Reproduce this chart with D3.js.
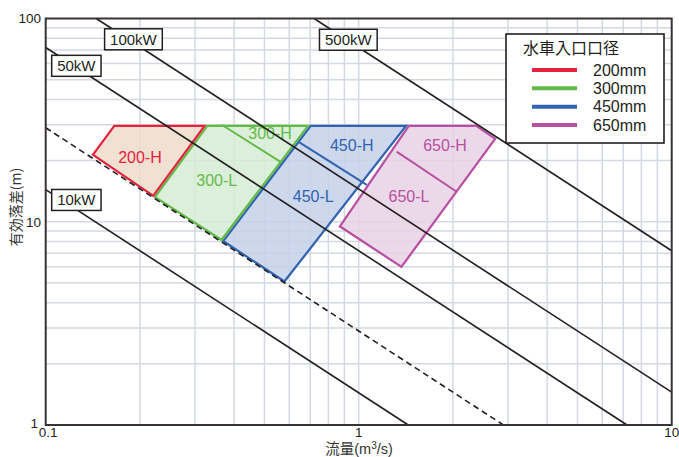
<!DOCTYPE html>
<html><head><meta charset="utf-8">
<script src="https://cdn.jsdelivr.net/npm/d3@7"></script>
<style>body{margin:0;background:#fff} svg{display:block}</style>
</head><body><svg id="c" width="679" height="457"></svg>
<script>
// ---- data ----
const diameters = ["200mm","300mm","450mm","650mm"];
const seriesColors = ["#e4223f","#62bb48","#3163b0","#b84fa0"];
const seriesFills  = ["#efdcca","#d6ecd3","#c6d1e9","#e8d2e5"];
const outline200 = [[0.165,30],[0.327,30],[0.221,13.2],[0.140,21.3]];
const outline300 = [[0.327,30],[0.70,30],[0.365,8.0],[0.221,13.2]];
const outline450 = [[0.70,30],[1.44,30],[0.58,5.0],[0.365,8.0]];
const outline650 = [[1.44,30],[2.38,30],[2.76,25.7],[1.372,5.9],[0.861,9.46]];
const divider300 = [[0.365,30],[0.561,19.75]];
const divider450 = [[0.641,24.77],[1.061,15.17]];
const divider650 = [[1.322,22.12],[2.056,14.05]];
const regionNames  = ["200-H","300-L","300-H","450-H","450-L","650-H","650-L"];
const regionQ      = [0.200,0.352,0.521,0.950,0.716,1.887,1.448];
const regionH      = [20.7,16.05,27.2,23.9,13.3,23.9,13.4];
const regionSeries = [0,1,1,2,2,3,3];
const powerLabels = ["10kW","50kW","100kW","500kW"];
const powerQH     = [1.44,7.2,14.5,72];
const powerLabelQ = [0.1253,0.1253,0.1907,0.9265];
const powerLabelH = [12.8,58.5,79.0,78.6];
const dashedQH = 2.9;
const xTickValues = [0.1,1,10], xTickLabels = ["0.1","1","10"];
const yTickValues = [1,10,100], yTickLabels = ["1","10","100"];
const legendTitle = "水車入口口径";

// ---- drawing ----
const svg = d3.select("#c");
const L = 45.7, R = 671.7, T = 18.5, B = 425;
const x = d3.scaleLog().domain([0.1,10]).range([L,R]);
const y = d3.scaleLog().domain([1,100]).range([B,T]);
const font = "'Liberation Sans', Arial, Helvetica, sans-serif";
const cjk = "'Noto Sans CJK JP','Noto Sans CJK SC', sans-serif";
const mixed = "'Liberation Sans','Noto Sans CJK JP', sans-serif";

// grid
const g = svg.append("g");
g.selectAll("line.v").data(x.ticks().filter(d=>d>0.1 && d<10)).enter().append("line")
  .attr("x1",d=>x(d)).attr("x2",d=>x(d)).attr("y1",T).attr("y2",B)
  .attr("stroke","#d2d9e2").attr("stroke-width",1.5);
g.selectAll("line.h").data(y.ticks().filter(d=>d>1 && d<100)).enter().append("line")
  .attr("x1",L).attr("x2",R).attr("y1",d=>y(d)).attr("y2",d=>y(d))
  .attr("stroke","#d2d9e2").attr("stroke-width",1.5);

const line = d3.line().x(d=>x(d[0])).y(d=>y(d[1]));
const outlines = [outline200,outline300,outline450,outline650];
const dividers = [null,divider300,divider450,divider650];

// fills
outlines.forEach((o,i)=>{
  svg.append("path").attr("d",line(o)+"Z").attr("fill",seriesFills[i]).attr("fill-opacity",0.85);
});
// inside strokes (clipped)
const defs = svg.append("defs");
outlines.forEach((o,i)=>{
  defs.append("clipPath").attr("id","cp"+i).append("path").attr("d",line(o)+"Z");
});
[3,2,1,0].forEach(i=>{
  svg.append("path").attr("d",line(outlines[i])+"Z").attr("fill","none")
    .attr("stroke",seriesColors[i]).attr("stroke-width",4.4).attr("clip-path","url(#cp"+i+")");
  if(dividers[i]) svg.append("path").attr("d",line(dividers[i])).attr("fill","none")
    .attr("stroke",seriesColors[i]).attr("stroke-width",2);
});

// region labels
regionNames.forEach((n,i)=>{
  svg.append("text").attr("x",x(regionQ[i])).attr("y",y(regionH[i])).attr("dy","0.36em")
    .attr("text-anchor","middle").attr("font-family",font).attr("font-size",16)
    .attr("fill",seriesColors[regionSeries[i]]).text(n);
});

// power lines
function kLine(k){
  const q0 = Math.max(0.1, k/100), q1 = Math.min(10, k/1);
  return [[q0,k/q0],[q1,k/q1]];
}
powerQH.forEach(k=>{
  svg.append("path").attr("d",line(kLine(k))).attr("fill","none")
    .attr("stroke","#231f20").attr("stroke-width",1.6);
});
svg.append("path").attr("d",line(kLine(dashedQH))).attr("fill","none")
  .attr("stroke","#231f20").attr("stroke-width",1.6).attr("stroke-dasharray","6,4");

// power labels
powerLabels.forEach((t,i)=>{
  const cx = x(powerLabelQ[i]), cy = y(powerLabelH[i]);
  const tx = svg.append("text").attr("x",cx).attr("y",cy).attr("dy","0.36em")
    .attr("text-anchor","middle").attr("font-family",font).attr("font-size",15)
    .attr("fill","#231f20").text(t);
  const w = tx.node().getComputedTextLength()+11, h = 21;
  svg.insert("rect", function(){return tx.node();}).attr("x",cx-w/2).attr("y",cy-h/2).attr("width",w).attr("height",h)
    .attr("fill","#fff").attr("stroke","#231f20").attr("stroke-width",1.5);
});

// frame
svg.append("rect").attr("x",L).attr("y",T).attr("width",R-L).attr("height",B-T)
  .attr("fill","none").attr("stroke","#3a3335").attr("stroke-width",2);

// ticks
xTickValues.forEach((v,i)=>{
  const t = svg.append("text").attr("y",437)
    .attr("font-family",font).attr("font-size",13.5).attr("fill","#231f20").text(xTickLabels[i]);
  if(i===0) t.attr("x",x(v)-7).attr("text-anchor","start");
  else t.attr("x",x(v)).attr("text-anchor","middle");
});
yTickValues.forEach((v,i)=>{
  svg.append("text").attr("x",i===0?38:41).attr("y",y(v)).attr("dy",i===0?"0.2em":"0.36em").attr("text-anchor","end")
    .attr("font-family",font).attr("font-size",13.5).attr("fill","#231f20").text(yTickLabels[i]);
});

// axis titles
const xt = svg.append("text").attr("x",359).attr("y",453.5).attr("text-anchor","middle")
  .attr("font-family",mixed).attr("font-size",14.5).attr("fill","#333");
xt.append("tspan").text("流量(m");
xt.append("tspan").attr("font-size",10).attr("dy",-5).text("3");
xt.append("tspan").attr("dy",5).text("/s)");
svg.append("text").attr("transform","translate(21,207) rotate(-90)").attr("text-anchor","middle")
  .attr("font-family",cjk).attr("font-size",14).attr("fill","#333").text("有効落差(m)");

// legend
const lg = svg.append("g");
lg.append("rect").attr("x",506).attr("y",34).attr("width",158).attr("height",109)
  .attr("fill","#fff").attr("stroke","#231f20").attr("stroke-width",1.6);
lg.append("text").attr("x",523).attr("y",48.5).attr("dy","0.36em").attr("font-family",cjk)
  .attr("font-size",16).attr("fill","#231f20").text(legendTitle);
const ly = d3.scalePoint().domain(diameters).range([70,125]);
diameters.forEach((d,i)=>{
  lg.append("line").attr("x1",532).attr("x2",577).attr("y1",ly(d)).attr("y2",ly(d))
    .attr("stroke",seriesColors[i]).attr("stroke-width",4);
  lg.append("text").attr("x",593).attr("y",ly(d)).attr("dy","0.36em").attr("font-family",font)
    .attr("font-size",16).attr("fill","#231f20").text(d);
});
</script></body></html>
